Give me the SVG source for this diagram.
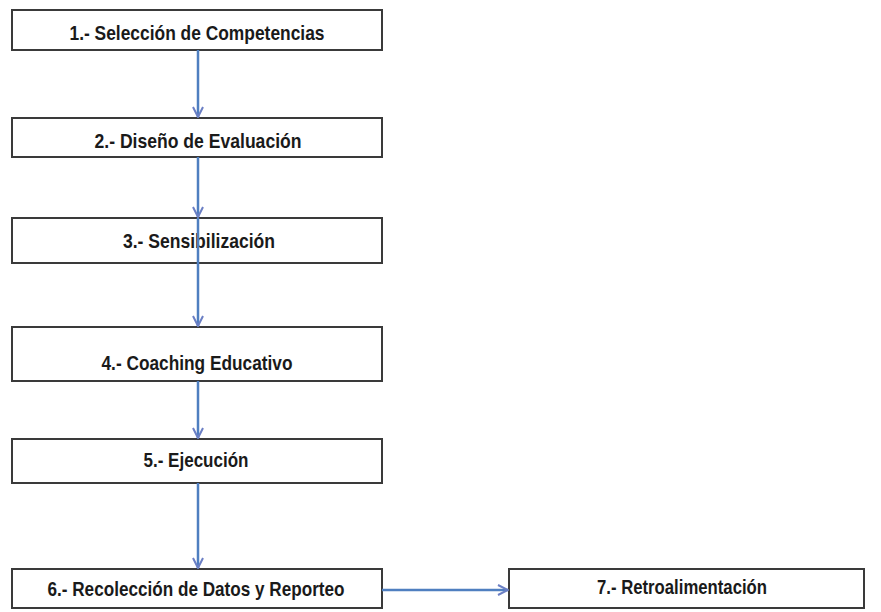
<svg xmlns="http://www.w3.org/2000/svg" width="881" height="612" viewBox="0 0 881 612">
<style>
.box{fill:#ffffff;stroke:#3a3a3a;stroke-width:2}
.lbl{font-family:"Liberation Sans Narrow","Liberation Sans","DejaVu Sans Condensed",sans-serif;font-weight:bold;font-size:21px;fill:#1a1a1a;text-anchor:middle}
.conn{stroke:#4f7fc0;stroke-width:2.5;fill:none;marker-end:url(#ah)}
</style>
<defs>
<marker id="ah" viewBox="0 0 10 10" refX="9" refY="5" markerWidth="5" markerHeight="5" orient="auto" markerUnits="strokeWidth">
<path d="M1,1 L9,5 L1,9" fill="none" stroke="#6b7fc4" stroke-width="1.6"/>
</marker>
</defs>
<rect width="881" height="612" fill="#ffffff"/>
<g id="n1"><rect class="box" x="12" y="10" width="370" height="40"/><text class="lbl" x="197" y="40" textLength="255" lengthAdjust="spacingAndGlyphs">1.- Selección de Competencias</text></g>
<g id="n2"><rect class="box" x="12" y="118" width="370" height="39"/><text class="lbl" x="198" y="148" textLength="207" lengthAdjust="spacingAndGlyphs">2.- Diseño de Evaluación</text></g>
<g id="n3"><rect class="box" x="12" y="218" width="370" height="45"/><text class="lbl" x="199" y="248" textLength="152" lengthAdjust="spacingAndGlyphs">3.- Sensibilización</text></g>
<g id="n4"><rect class="box" x="12" y="327" width="370" height="54"/><text class="lbl" x="197" y="370" textLength="191" lengthAdjust="spacingAndGlyphs">4.- Coaching Educativo</text></g>
<g id="n5"><rect class="box" x="12" y="439" width="370" height="44"/><text class="lbl" x="196" y="467" textLength="105" lengthAdjust="spacingAndGlyphs">5.- Ejecución</text></g>
<g id="n6"><rect class="box" x="12" y="569" width="370" height="39"/><text class="lbl" x="196" y="596" textLength="297" lengthAdjust="spacingAndGlyphs">6.- Recolección de Datos y Reporteo</text></g>
<g id="n7"><rect class="box" x="509" y="569" width="355" height="39"/><text class="lbl" x="682" y="594" textLength="170" lengthAdjust="spacingAndGlyphs">7.- Retroalimentación</text></g>
<g id="connectors">
<line class="conn" x1="198" y1="50" x2="198" y2="117"/>
<line class="conn" x1="198" y1="157" x2="198" y2="217"/>
<line class="conn" x1="198" y1="218" x2="198" y2="326"/>
<line class="conn" x1="198" y1="381" x2="198" y2="438"/>
<line class="conn" x1="198" y1="483" x2="198" y2="568"/>
<line class="conn" x1="382" y1="590" x2="508" y2="590"/>
</g>
</svg>
